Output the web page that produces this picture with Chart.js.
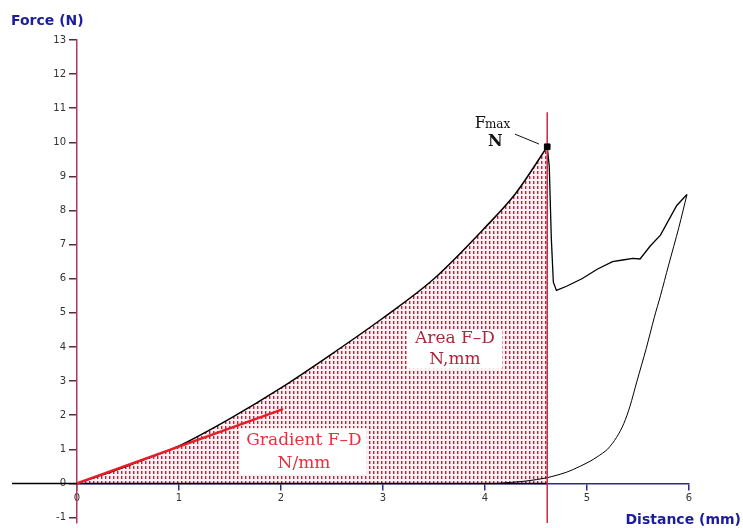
<!DOCTYPE html>
<html>
<head>
<meta charset="utf-8">
<script src="https://cdn.jsdelivr.net/npm/chart.js@4/dist/chart.umd.min.js"></script>
<style>
    body { margin: 0; background: #fff; }
</style>
</head>
<body>
<canvas id="forceChart" width="743" height="528"></canvas>
<script>
// loading curve, 0 mm up to the break (Fmax)
var loadDistance = [0, 0.25, 0.5, 0.75, 1, 1.5, 2, 2.5, 3, 3.5, 4, 4.3, 4.61];
var loadForce = [0, 0.25, 0.52, 0.8, 1.1, 1.9, 2.8, 3.8, 4.85, 6.0, 7.5, 8.5, 9.87];

// after the break: drop, second rise up to 6 mm
var postDistance = [4.61, 4.63, 4.65, 4.67, 4.70, 4.8, 4.95, 5.1, 5.25, 5.35, 5.45, 5.52, 5.62, 5.72, 5.88, 5.98];
var postForce = [9.87, 9.3, 7.2, 5.9, 5.66, 5.78, 6.0, 6.28, 6.5, 6.55, 6.6, 6.58, 6.96, 7.28, 8.15, 8.47];

// return (unloading) curve
var returnDistance = [5.98, 5.9, 5.8, 5.72, 5.66, 5.58, 5.49, 5.42, 5.36, 5.29, 5.2, 5.1, 5.03, 4.93, 4.8, 4.61, 4.4, 4.12];
var returnForce = [8.47, 7.5, 6.4, 5.5, 4.87, 3.95, 3.0, 2.25, 1.75, 1.35, 1.0, 0.78, 0.65, 0.5, 0.33, 0.17, 0.07, 0];

var gradientDistance = [0, 2.02];
var gradientForce = [0, 2.18];

var fmaxDistance = 4.61;
var fmaxForce = 9.87;

var xTicks = [0, 1, 2, 3, 4, 5, 6];
var yTicks = [-1, 0, 1, 2, 3, 4, 5, 6, 7, 8, 9, 10, 11, 12, 13];

toPoints = (xs, ys) => xs.map((x, i) => ({ x: x, y: ys[i] }));

// dotted red hatch for the area under the curve
makePattern = () => {
    let c = document.createElement('canvas');
    c.width = 4;
    c.height = 5;
    let p = c.getContext('2d');
    p.fillStyle = '#fdf1f3';
    p.fillRect(0, 0, 4, 5);
    p.fillStyle = '#b3283f';
    p.fillRect(1, 1, 1.4, 3);
    return p.createPattern(c, 'repeat');
};

var ctx = document.getElementById('forceChart').getContext('2d');
var hatch = makePattern();

var labelsPlugin = {
    id: 'labels',
    afterDatasetsDraw: (chart) => {
        const c = chart.ctx;
        const xs = chart.scales.x;
        const ys = chart.scales.y;
        const px = (v) => xs.getPixelForValue(v);
        const py = (v) => ys.getPixelForValue(v);

        c.save();
        // white boxes behind the labels
        c.fillStyle = '#ffffff';
        c.fillRect(px(1.60), py(1.62), px(2.84) - px(1.60), py(0.26) - py(1.62));
        c.fillRect(px(3.235), py(4.5), px(4.167) - px(3.235), py(3.36) - py(4.5));

        c.textAlign = 'center';
        c.textBaseline = 'middle';
        c.font = '17px "DejaVu Serif"';
        c.fillStyle = '#e8303c';
        c.fillText('Gradient F\u2013D', px(2.225), py(1.25));
        c.fillText('N/mm', px(2.225), py(0.58));

        c.fillStyle = '#a82a3c';
        c.fillText('Area F\u2013D', px(3.706), py(4.24));
        c.fillText('N,mm', px(3.706), py(3.63));

        // Fmax label with leader line
        c.fillStyle = '#111';
        c.textAlign = 'left';
        c.textBaseline = 'alphabetic';
        c.font = '16px "DejaVu Serif"';
        c.fillText('F', px(3.90), py(10.42));
        let fw = c.measureText('F').width;
        c.font = '12px "DejaVu Serif"';
        c.fillText('max', px(3.90) + fw - 1, py(10.42));
        c.textAlign = 'center';
        c.textBaseline = 'middle';
        c.font = 'bold 16px "DejaVu Serif"';
        c.fillText('N', px(4.10), py(10.01));
        c.strokeStyle = '#111';
        c.lineWidth = 1;
        c.beginPath();
        c.moveTo(px(4.294), py(10.24));
        c.lineTo(px(4.53), py(9.95));
        c.stroke();

        // axis titles
        c.fillStyle = '#1c1ca0';
        c.font = 'bold 14px "DejaVu Sans"';
        c.textAlign = 'left';
        c.fillText('Force (N)', 11, 21);
        c.textAlign = 'right';
        c.fillText('Distance (mm)', 741, 520);
        c.restore();
    }
};

// chart.js paints the first dataset on top, so the filled curve goes last
new Chart(ctx, {
    type: 'scatter',
    data: {
        datasets: [
            {
                label: 'Fmax',
                data: toPoints([fmaxDistance], [fmaxForce]),
                pointStyle: 'rect',
                pointRadius: 4,
                backgroundColor: '#000',
                borderColor: '#000'
            },
            {
                label: 'Gradient',
                data: toPoints(gradientDistance, gradientForce),
                showLine: true,
                borderColor: '#e61e28',
                borderWidth: 2.5,
                pointRadius: 0
            },
            {
                label: 'Break line',
                data: toPoints([fmaxDistance, fmaxDistance], [10.88, -1.3]),
                showLine: true,
                borderColor: '#c62c40',
                borderWidth: 1.5,
                pointRadius: 0
            },
            {
                label: 'Baseline',
                data: toPoints([-0.637, fmaxDistance], [0, 0]),
                showLine: true,
                clip: false,
                borderColor: '#000',
                borderWidth: 1.5,
                pointRadius: 0
            },
            {
                label: 'Return',
                data: toPoints(returnDistance, returnForce),
                showLine: true,
                borderColor: '#000',
                borderWidth: 1,
                pointRadius: 0,
                tension: 0.3
            },
            {
                label: 'After break',
                data: toPoints(postDistance, postForce),
                showLine: true,
                borderColor: '#000',
                borderWidth: 1.3,
                pointRadius: 0,
                tension: 0
            },
            {
                label: 'Load',
                data: toPoints(loadDistance, loadForce),
                showLine: true,
                borderColor: '#000',
                borderWidth: 1.5,
                backgroundColor: hatch,
                fill: 'origin',
                pointRadius: 0,
                cubicInterpolationMode: 'monotone'
            }
        ]
    },
    options: {
        responsive: false,
        animation: false,
        events: [],
        layout: {
            padding: { left: 12, right: 54, top: 40, bottom: 0 }
        },
        plugins: {
            legend: { display: false },
            tooltip: { enabled: false }
        },
        scales: {
            x: {
                type: 'linear',
                min: 0,
                max: 6,
                position: { y: 0 },
                afterBuildTicks: (scale) => { scale.ticks = xTicks.map(v => ({ value: v })); },
                border: { display: true, color: '#2c2c8c', width: 1.5 },
                grid: { drawOnChartArea: false, drawTicks: true, tickLength: 6, color: '#2c2c8c', lineWidth: 1.5 },
                ticks: { font: { family: 'DejaVu Sans', size: 10 }, color: '#333', padding: 3, maxRotation: 0 }
            },
            y: {
                type: 'linear',
                min: -1.16,
                max: 13,
                position: 'left',
                afterBuildTicks: (scale) => { scale.ticks = yTicks.map(v => ({ value: v })); },
                afterFit: (scale) => {
                    scale.width = 65;
                    scale.paddingTop = 0;
                    scale.paddingBottom = 0;
                },
                border: { display: true, color: '#b0385a', width: 1.5 },
                grid: { drawOnChartArea: false, drawTicks: true, tickLength: 8, color: '#5a2a3a', lineWidth: 1.5 },
                ticks: { font: { family: 'DejaVu Sans', size: 10 }, color: '#333', padding: 3 }
            }
        }
    },
    plugins: [labelsPlugin]
});
</script>
</body>
</html>
